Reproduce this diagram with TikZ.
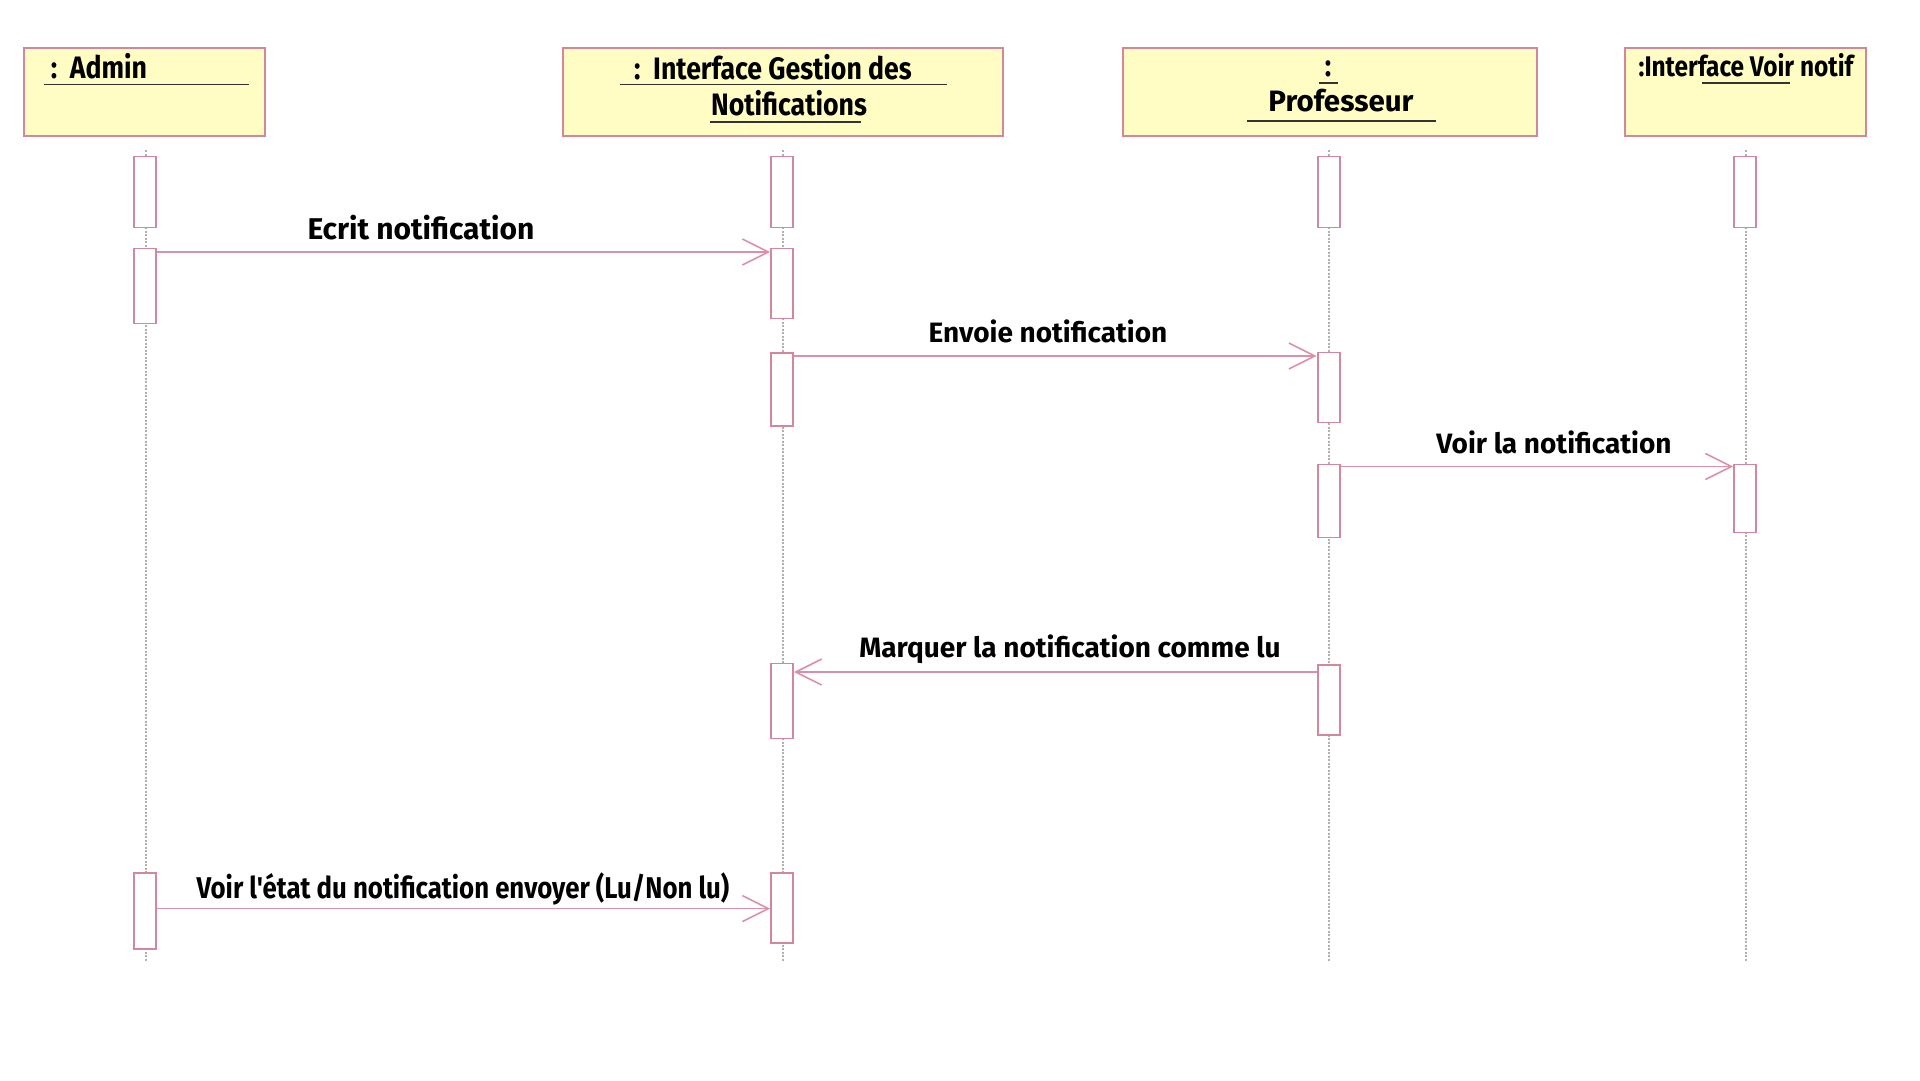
\documentclass[tikz,border=0pt]{standalone}
\usepackage{fontspec}
\setmainfont{Fira Sans}
\newfontfamily\condfont[FakeStretch=0.86]{Fira Sans}
\usetikzlibrary{arrows.meta}
\definecolor{boxfill}{HTML}{FFFCC4}
\definecolor{boxline}{HTML}{D4879A}
\definecolor{msgline}{HTML}{DC8FA8}
\definecolor{lifeln}{HTML}{B0B0B0}
\begin{document}
\begin{tikzpicture}[x=1pt,y=-1pt,
  header/.style={draw=boxline,fill=boxfill,line width=2pt,inner sep=0,anchor=north west},
  lifeline/.style={draw=lifeln,line width=1.2pt,dash pattern=on 2pt off 1.5pt},
  act/.style={draw=boxline,fill=white,line width=1.8pt,minimum width=22pt,inner sep=0},
  msg/.style={draw=msgline,line width=1.6pt,-{Straight Barb[length=26pt,width=26pt,line width=1.6pt]}},
  lbl/.style={font=\bfseries\fontsize{28}{32}\selectfont,inner sep=0},
  htxt/.style={font=\condfont\bfseries\fontsize{31}{36}\selectfont,inner sep=0},
  uline/.style={draw=black!80,line width=1.6pt}]
\useasboundingbox[fill=white] (0,0) rectangle (1920,1080);

% headers
\node[header,minimum width=241pt,minimum height=88pt] (hA) at (23,46.5) {};
\node[header,minimum width=440pt,minimum height=88pt] (hG) at (562,46.5) {};
\node[header,minimum width=414pt,minimum height=88pt] (hP) at (1122,46.5) {};
\node[header,minimum width=241pt,minimum height=88pt] (hV) at (1624,46.5) {};

% header texts
\node[htxt,anchor=base] (tA) at (99,78) {:\ \ Admin};
\draw[uline] (44,84.5) -- (249,84.5);
\node[htxt,anchor=base] (tG1) at (773,79) {:\ \ Interface Gestion des};
\draw[uline] (620,84.5) -- (947,84.5);
\node[htxt,anchor=base] (tG2) at (789,115) {Notifications};
\draw[uline] (710,122) -- (861,122);
\node[htxt,anchor=base] (tPc) at (1328,76) {:};
\draw[uline] (1319,83) -- (1338,83);
\node[htxt,anchor=base,font=\bfseries\fontsize{29.5}{34}\selectfont] (tP) at (1341,111.5) {Professeur};
\draw[uline] (1247,121) -- (1436,121);
\node[htxt,anchor=base,font=\condfont\bfseries\fontsize{28.4}{32}\selectfont] (tV) at (1746,76) {:Interface Voir notif};
\draw[uline] (1702,83) -- (1790,83);

% lifelines
\coordinate (eA) at (146,962);
\coordinate (eG) at (783,962);
\coordinate (eP) at (1329,962);
\coordinate (eV) at (1746,962);
\coordinate (sA) at (146,150);
\coordinate (sG) at (783,150);
\coordinate (sP) at (1329,150);
\coordinate (sV) at (1746,150);
\draw[lifeline] (sA) -- (eA);
\draw[lifeline] (sG) -- (eG);
\draw[lifeline] (sP) -- (eP);
\draw[lifeline] (sV) -- (eV);

% activation bars
\node[act,minimum height=71pt] (a0) at (145,192) {};
\node[act,minimum height=75pt] (a1) at (145,286) {};
\node[act,minimum height=76pt] (a2) at (145,911) {};
\node[act,minimum height=71pt] (g0) at (782,192) {};
\node[act,minimum height=70pt] (g1) at (782,283.5) {};
\node[act,minimum height=73pt] (g2) at (782,389.4) {};
\node[act,minimum height=75pt] (g3) at (782,701) {};
\node[act,minimum height=70pt] (g4) at (782,908) {};
\node[act,minimum height=71pt] (p0) at (1328.6,192) {};
\node[act,minimum height=70pt] (p1) at (1328.6,387.5) {};
\node[act,minimum height=73pt] (p2) at (1328.6,501) {};
\node[act,minimum height=70pt] (p3) at (1328.6,700) {};
\node[act,minimum height=71pt] (v0) at (1745,192) {};
\node[act,minimum height=68pt] (v1) at (1745,498.5) {};

% messages
\draw[msg] (a1.east |- 0,252) -- (g1.west |- 0,252);
\node[lbl,font=\bfseries\fontsize{30}{34}\selectfont] (m1) at (421,228) {Ecrit notification};
\draw[msg] (g2.east |- 0,356) -- (p1.west |- 0,356);
\node[lbl] (m2) at (1048,331) {Envoie notification};
\draw[msg] (p2.east |- 0,466.5) -- (v1.west |- 0,466.5);
\node[lbl] (m3) at (1554,442) {Voir la notification};
\draw[msg] (p3.west |- 0,672) -- (g3.east |- 0,672);
\node[lbl] (m4) at (1070,649) {Marquer la notification comme lu};
\draw[msg] (a2.east |- 0,908.6) -- (g4.west |- 0,908.6);
\node[lbl,font=\condfont\bfseries\fontsize{30}{34}\selectfont] (m5) at (463,889) {Voir l'état du notification envoyer (Lu/Non lu)};
\end{tikzpicture}
\end{document}
